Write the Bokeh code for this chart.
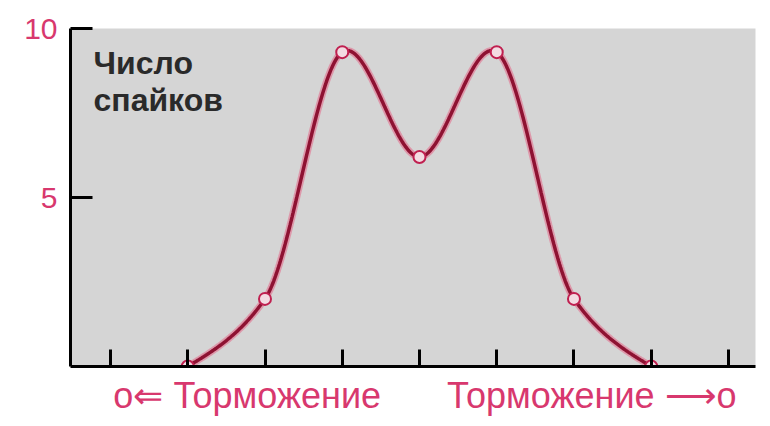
import numpy as np
from bokeh.plotting import figure
from bokeh.models import FixedTicker, Label, Range1d
from bokeh.embed import file_html
from bokeh.resources import INLINE

# ---- data ----
x_vals = [2, 3, 4, 5, 6, 7, 8]
spikes = [0, 2, 9.3, 6.2, 9.3, 2, 0]
y_ticks = [5, 10]
x_tick_marks = [1, 2, 3, 4, 5, 6, 7, 8, 9]
bottom_label_pos = [2.77, 7.23]
bottom_labels = ["о⇐ Торможение", "Торможение ⟶о"]
y_title = ["Число", "спайков"]

PINK = "#d8386e"
CURVE = "#8e1232"


def cardinal(xs, ys, tension=0.3, per_seg=80):
    """Cubic Hermite interpolation with cardinal-spline tangents."""
    xs = np.asarray(xs, float)
    ys = np.asarray(ys, float)
    n = len(xs)
    k = 1 - tension
    m = np.zeros(n)
    m[0] = k * (ys[1] - ys[0]) / (xs[1] - xs[0])
    m[-1] = k * (ys[-1] - ys[-2]) / (xs[-1] - xs[-2])
    for i in range(1, n - 1):
        m[i] = k * (ys[i + 1] - ys[i - 1]) / (xs[i + 1] - xs[i - 1])
    out_x, out_y = [], []
    for i in range(n - 1):
        h = xs[i + 1] - xs[i]
        t = np.linspace(0, 1, per_seg, endpoint=(i == n - 2))
        h00 = 2 * t**3 - 3 * t**2 + 1
        h10 = t**3 - 2 * t**2 + t
        h01 = -2 * t**3 + 3 * t**2
        h11 = t**3 - t**2
        out_x.append(xs[i] + t * h)
        out_y.append(h00 * ys[i] + h10 * h * m[i] + h01 * ys[i + 1] + h11 * h * m[i + 1])
    return np.concatenate(out_x), np.concatenate(out_y)


p = figure(width=762, height=418, output_backend="svg", toolbar_location=None,
           x_range=Range1d(0.482, 9.35), y_range=Range1d(0, 10),
           min_border_left=70, min_border_right=7, min_border_top=28,
           min_border_bottom=50)
p.background_fill_color = "#d5d5d5"
p.border_fill_color = "white"
p.outline_line_color = None
p.xgrid.visible = False
p.ygrid.visible = False

# y axis
ya = p.yaxis[0]
ya.ticker = FixedTicker(ticks=y_ticks, minor_ticks=[])
ya.axis_line_width = 3
ya.axis_line_color = "black"
ya.major_tick_in = 22
ya.major_tick_out = 0
ya.major_tick_line_width = 3
ya.major_tick_line_color = "black"
ya.minor_tick_line_color = None
ya.major_label_text_color = PINK
ya.major_label_text_font = "Liberation Sans"
ya.major_label_text_font_size = "30px"
ya.major_label_standoff = 13

# x axis
xa = p.xaxis[0]
xa.ticker = FixedTicker(ticks=bottom_label_pos, minor_ticks=x_tick_marks)
xa.axis_line_width = 3
xa.axis_line_color = "black"
xa.major_tick_line_color = None
xa.major_tick_in = 0
xa.major_tick_out = 0
xa.minor_tick_in = 17
xa.minor_tick_out = 0
xa.minor_tick_line_width = 3
xa.minor_tick_line_color = "black"
xa.major_label_overrides = {pos: lab for pos, lab in zip(bottom_label_pos, bottom_labels)}
xa.major_label_text_color = PINK
xa.major_label_text_font = "Liberation Sans"
xa.major_label_text_font_size = "36px"
xa.major_label_standoff = 8

# curve
cx, cy = cardinal(x_vals, spikes)
p.line(cx, cy, line_color="#e2708e", line_width=7, line_alpha=0.6)
p.line(cx, cy, line_color=CURVE, line_width=3.5)
p.scatter(x_vals, spikes, marker="circle", size=12, fill_color="#f3dbe2",
          line_color="#c02050", line_width=2)

# title text inside plot
for txt, yy in zip(y_title, [8.97, 7.88]):
    p.add_layout(Label(x=0.78, y=yy, text=txt, text_font="Liberation Sans",
                       text_font_style="bold", text_font_size="32px",
                       text_color="#2a2a2a", text_baseline="alphabetic"))

open("out.html", "w").write(file_html(p, INLINE))
